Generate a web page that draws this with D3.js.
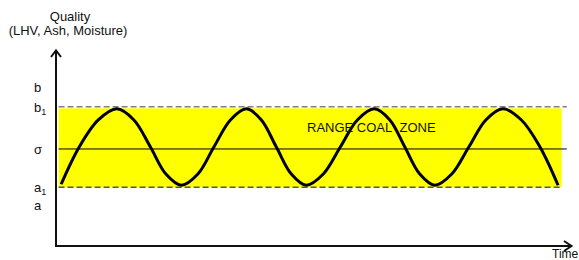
<!DOCTYPE html>
<html>
<head>
<meta charset="utf-8">
<script src="https://cdn.jsdelivr.net/npm/d3@7"></script>
<style>
  body { margin: 0; background: #fff; }
  text { font-family: "Liberation Sans", Arial, sans-serif; fill: #111; }
</style>
</head>
<body>
<script>
// wave points (time, quality)
var waveTime    = [1.0, 4.5, 8.2, 11.8, 15.1, 18.3, 21.3, 24.3, 27.5, 30.6, 33.8, 36.9, 39.8, 42.7, 45.6, 48.5,
                   51.8, 55.1, 58.4, 61.7, 64.7, 67.6, 70.5, 73.4, 76.7, 80.0, 83.3, 86.6, 90.2, 93.8, 97.3];
var waveQuality = [31.5, 50.5, 64.3, 70, 64.3, 50.5, 36.7, 31, 36.7, 50.5, 64.3, 70, 64.3, 50.5, 36.7, 31,
                   36.7, 50.5, 64.3, 70, 64.3, 50.5, 36.7, 31, 36.7, 50.5, 64.3, 70, 64.3, 50.5, 31];

// reference levels
var levelNames  = ["b", "b1", "σ", "a1", "a"];
var levelValues = [81, 71, 49.5, 30, 21];

var bandLow = 30, bandHigh = 71, sigma = 49.5;

var W = 579, H = 260;

var xScale = d3.scaleLinear().domain([0, 100]).range([56, 572]);
var yScale = d3.scaleLinear().domain([0, 100]).range([246, 50]);

var svg = d3.select("body")
            .append("svg")
            .attr("width", W)
            .attr("height", H);

// yellow range zone
svg.append("rect")
   .attr("x", xScale(0.5))
   .attr("y", yScale(bandHigh) + 1.5)
   .attr("width", xScale(98) - xScale(0.5))
   .attr("height", yScale(bandLow) - yScale(bandHigh) - 1.5)
   .attr("fill", "#ffff00");

// dashed limit lines
svg.append("line")
   .attr("x1", xScale(0.5)).attr("x2", xScale(99))
   .attr("y1", yScale(bandHigh)).attr("y2", yScale(bandHigh))
   .attr("stroke", "#808080")
   .attr("stroke-width", 1.5)
   .attr("stroke-dasharray", "6,3");

svg.append("line")
   .attr("x1", xScale(0.5)).attr("x2", xScale(98))
   .attr("y1", yScale(bandLow)).attr("y2", yScale(bandLow))
   .attr("stroke", "#555")
   .attr("stroke-width", 1.5)
   .attr("stroke-dasharray", "6,3");

// sigma line
svg.append("line")
   .attr("x1", xScale(0.5)).attr("x2", xScale(99))
   .attr("y1", yScale(sigma)).attr("y2", yScale(sigma))
   .attr("stroke", "#000")
   .attr("stroke-width", 1);

// the wave
var wave = waveTime.map(function(t, i) { return [t, waveQuality[i]]; });
var line = d3.line()
             .x(function(d) { return xScale(d[0]); })
             .y(function(d) { return yScale(d[1]); })
             .curve(d3.curveCatmullRom.alpha(0.5));

svg.append("path")
   .datum(wave)
   .attr("d", line)
   .attr("fill", "none")
   .attr("stroke", "#000")
   .attr("stroke-width", 3);

// axes with open arrows
var x0 = xScale(0), y0 = yScale(0);
var axisColor = "#111";

svg.append("line")
   .attr("x1", x0).attr("y1", y0 + 1)
   .attr("x2", x0).attr("y2", yScale(100))
   .attr("stroke", axisColor).attr("stroke-width", 2);

svg.append("line")
   .attr("x1", x0 - 1).attr("y1", y0)
   .attr("x2", xScale(100)).attr("y2", y0)
   .attr("stroke", axisColor).attr("stroke-width", 2);

svg.append("path")
   .attr("d", "M" + (x0 - 5) + "," + (yScale(100) + 7) + "L" + x0 + "," + (yScale(100) + 0.5) + "L" + (x0 + 5) + "," + (yScale(100) + 7))
   .attr("fill", "none").attr("stroke", axisColor).attr("stroke-width", 2);

svg.append("path")
   .attr("d", "M" + (xScale(100) - 8) + "," + (y0 - 5) + "L" + (xScale(100) - 0.5) + "," + y0 + "L" + (xScale(100) - 8) + "," + (y0 + 5))
   .attr("fill", "none").attr("stroke", axisColor).attr("stroke-width", 2);

// level labels
levelNames.forEach(function(name, i) {
    var t = svg.append("text")
               .attr("x", 34)
               .attr("y", yScale(levelValues[i]) + 5)
               .style("font-size", "13px");
    if (name.length > 1) {
        t.append("tspan").text(name[0]);
        t.append("tspan").attr("dy", 3).style("font-size", "9px").text(name.slice(1));
    } else {
        t.text(name);
    }
});

// axis titles
svg.append("text")
   .attr("x", 70).attr("y", 21)
   .style("text-anchor", "middle")
   .style("font-size", "13px")
   .text("Quality");

svg.append("text")
   .attr("x", 68).attr("y", 35)
   .style("text-anchor", "middle")
   .style("font-size", "13px")
   .text("(LHV, Ash, Moisture)");

svg.append("text")
   .attr("x", 552).attr("y", 258)
   .style("font-size", "12px")
   .text("Time");

svg.append("text")
   .attr("x", 307).attr("y", 132)
   .style("font-size", "13px")
   .text("RANGE COAL\u00a0 ZONE");
</script>
</body>
</html>
